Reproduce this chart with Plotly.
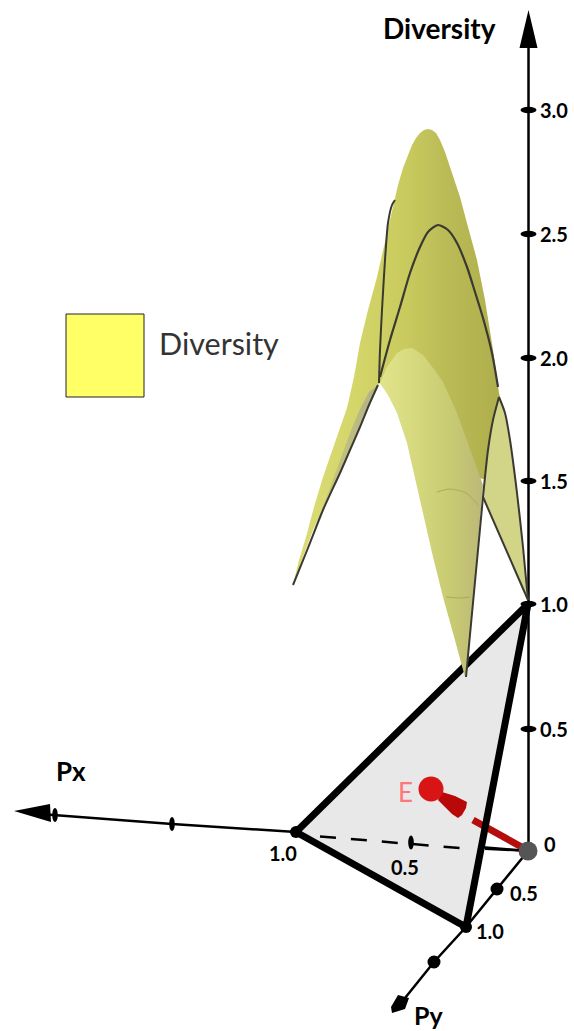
import plotly.graph_objects as go

# All coordinates are positions (x right, y down)
z_ticks_y = [110, 234, 358, 481, 604, 729]
z_tick_x = 528.5
z_tick_labels = ["3.0", "2.5", "2.0", "1.5", "1.0", "0.5"]
z_axis_x = [528.5, 528.5]
z_axis_y = [851, 45]
z_arrow_x = [528.5, 519.5, 537.5]
z_arrow_y = [10, 48, 48]

px_axis_x = [528, 296, 172, 55, 40]
px_axis_y = [851, 832, 824, 815, 814]
px_arrow_x = [14, 50, 51]
px_arrow_y = [811, 804, 822]
px_ticks = [(172, 824), (55, 815)]

py_axis_x = [528, 497, 466, 434, 405]
py_axis_y = [851, 889, 927, 962, 998]
py_arrow_x = [391, 398, 409, 405, 392]
py_arrow_y = [1007, 995, 998, 1009, 1013]
py_ticks = [(497, 889), (434, 962)]

tri_x = [296, 466, 528, 296]
tri_y = [832, 927, 604, 832]
hidden_x = [320, 466]
hidden_y = [836.5, 848.5]
hidden_tail_x = [485, 528]
hidden_tail_y = [849, 851]

back_x = [293, 299, 306, 314, 323, 332, 340, 347, 354, 360, 368, 377, 385, 392, 398, 403, 408, 412,
          416, 420, 424, 428, 432, 436, 440, 445, 450, 460, 468, 477, 485, 493, 499, 500, 488, 440,
          380, 378, 340, 313, 293]
back_y = [585, 560, 537, 507, 477, 450, 428, 408, 377, 343, 310, 277, 243, 210, 185, 168, 154, 145,
          138, 133, 130, 129, 130, 133, 140, 152, 167, 197, 227, 260, 300, 350, 393, 397, 480, 470,
          383, 385, 473, 530, 585]
wing_x = [293, 323, 340, 360, 378, 369, 360, 350, 327, 311, 293]
wing_y = [585, 510, 473, 427, 385, 392, 409, 433, 497, 540, 585]
lobe_x = [380, 387, 397, 404, 412, 423, 433, 443, 457, 470, 483, 468, 465, 453, 443, 433, 423,
          415, 407, 397, 387, 380]
lobe_y = [383, 367, 353, 349, 348, 355, 368, 382, 413, 450, 485, 663, 677, 633, 597, 557, 513,
          477, 443, 413, 393, 383]
right_lobe_x = [499, 505, 510, 517, 523, 528, 483, 488, 493, 499]
right_lobe_y = [397, 413, 440, 493, 547, 600, 497, 450, 420, 397]

line_a_x = [378, 369, 360, 350, 340, 323, 308, 293]
line_a_y = [385, 405, 427, 450, 473, 510, 548, 585]
line_b_x = [379, 380, 382, 385, 388, 392, 395]
line_b_y = [383, 350, 310, 260, 223, 205, 200]
arc_c_x = [380, 390, 400, 410, 420, 428, 438, 448, 457, 467, 475, 483, 492, 498]
arc_c_y = [377, 340, 307, 273, 247, 232, 225, 230, 243, 267, 292, 318, 353, 387]
line_d1_x = [466, 483, 488, 493, 499]
line_d1_y = [677, 497, 450, 420, 397]
line_d2_x = [499, 505, 510, 517, 523, 528]
line_d2_y = [397, 413, 440, 493, 547, 600]
line_e_x = [483, 528]
line_e_y = [497, 600]
faint1_x = [437, 450, 466, 478]
faint1_y = [492, 489, 493, 505]
faint2_x = [446, 460, 470]
faint2_y = [597, 598, 597]

rod_x = [473, 527]
rod_y = [820, 850]
cone_x = [442, 455, 467, 466, 462, 458, 452, 438]
cone_y = [792, 796, 802, 808, 815, 818, 814, 800]
sphere_x = [431]
sphere_y = [789]
origin_x = [528]
origin_y = [851]

legend_x = [66, 144, 144, 66, 66]
legend_y = [314, 314, 397, 397, 314]

fig = go.Figure()


def line(x, y, color="black", width=2, dash=None, smooth=False):
    fig.add_trace(go.Scatter(x=x, y=y, mode="lines",
                             line=dict(color=color, width=width, dash=dash,
                                       shape="spline" if smooth else "linear", smoothing=0.7),
                             hoverinfo="skip"))


def poly(x, y, fill, outline=None, gradient=None):
    kw = dict(fillcolor=fill)
    if gradient:
        kw = dict(fillgradient=dict(type="horizontal", colorscale=gradient))
    fig.add_trace(go.Scatter(x=x, y=y, mode="lines", fill="toself",
                             line=dict(width=1 if outline else 0, color=outline or "rgba(0,0,0,0)"),
                             hoverinfo="skip", **kw))


# triangle and axes
poly(tri_x, tri_y, "#e8e8e8")
line(z_axis_x, z_axis_y, width=2.5)
line(px_axis_x, px_axis_y, width=2.5)
line(py_axis_x, py_axis_y, width=2.5)
poly(z_arrow_x, z_arrow_y, "black")
poly(px_arrow_x, px_arrow_y, "black")
poly(py_arrow_x, py_arrow_y, "black")
poly(tri_x, tri_y, "#e8e8e8")
line(hidden_x, hidden_y, width=2.5, dash="16px,15px")
line(hidden_tail_x, hidden_tail_y, width=2)
line(rod_x, rod_y, color="#b50c0c", width=7)
line(tri_x, tri_y, width=7)

# surface
poly(back_x, back_y, "#bcbc55",
     gradient=[[0, "#dcdc76"], [0.3, "#d4d66a"], [0.55, "#c8ca5e"], [0.75, "#baba56"], [1, "#aeae4c"]])
poly(wing_x, wing_y, "#b9b97c", gradient=[[0, "#c8cc70"], [0.6, "#c0c07e"], [1, "#b0b08a"]])
poly(lobe_x, lobe_y, "#d0d27c",
     gradient=[[0, "#e2e48c"], [0.35, "#d6d87e"], [0.7, "#c8ca72"], [1, "#bcb878"]])
poly(right_lobe_x, right_lobe_y, "#d2d488")
line(faint1_x, faint1_y, color="#a9a964", width=1, smooth=True)
line(faint2_x, faint2_y, color="#a9a964", width=1, smooth=True)
for lx, ly, w in [(line_a_x, line_a_y, 2), (line_b_x, line_b_y, 2), (arc_c_x, arc_c_y, 2.2),
                  (line_d1_x, line_d1_y, 2), (line_d2_x, line_d2_y, 2), (line_e_x, line_e_y, 2)]:
    line(lx, ly, color="#3a3a32", width=w, smooth=True)

# red vector
poly(cone_x, cone_y, "#b80808")
fig.add_trace(go.Scatter(x=sphere_x, y=sphere_y, mode="markers", hoverinfo="skip",
                         marker=dict(size=25, color="#d91414")))
fig.add_trace(go.Scatter(x=origin_x, y=origin_y, mode="markers", hoverinfo="skip",
                         marker=dict(size=19, color="#555555")))
poly(legend_x, legend_y, "#ffff66", outline="#222222")


def ellipse(cx, cy, rx, ry):
    return dict(type="circle", xref="x", yref="y", x0=cx - rx, x1=cx + rx, y0=cy - ry, y1=cy + ry,
                fillcolor="black", line=dict(width=0))


shapes = [ellipse(z_tick_x, y, 8, 3.2) for y in z_ticks_y]
shapes += [ellipse(x, y, 2.8, 7) for x, y in px_ticks]
shapes += [ellipse(x, y, 6.5, 6.5) for x, y in py_ticks]
shapes += [ellipse(411, 842.5, 2.8, 7), ellipse(296, 832, 6, 6), ellipse(466, 927, 6, 6)]


def text(s, x, y, size, color="black", bold=True, anchor="center"):
    fig.add_annotation(x=x, y=y, text=f"<b>{s}</b>" if bold else s, showarrow=False,
                       xanchor=anchor, yanchor="middle",
                       font=dict(family="Lato", size=size, color=color))


for lab, y in zip(z_tick_labels, z_ticks_y):
    text(lab, 538, y, 20, anchor="left")
text("0", 550, 844, 20)
text("1.0", 283, 853, 20)
text("0.5", 405, 867, 20)
text("0.5", 524, 893, 20)
text("1.0", 490, 931, 20)
text("Diversity", 439, 28, 28)
text("Px", 71, 771, 26)
text("Py", 428, 1015, 25)
text("E", 405, 792, 26, color="#ff7878", bold=False)
text("Diversity", 219, 343, 30.5, color="#333333", bold=False)

fig.update_layout(width=574, height=1031, margin=dict(l=0, r=0, t=0, b=0), showlegend=False,
                  plot_bgcolor="white", paper_bgcolor="white", shapes=shapes,
                  xaxis=dict(range=[0, 574], visible=False),
                  yaxis=dict(range=[1031, 0], visible=False))
fig.write_html("out.html", config=dict(displayModeBar=False),
               post_script="document.body.style.margin='0';")
